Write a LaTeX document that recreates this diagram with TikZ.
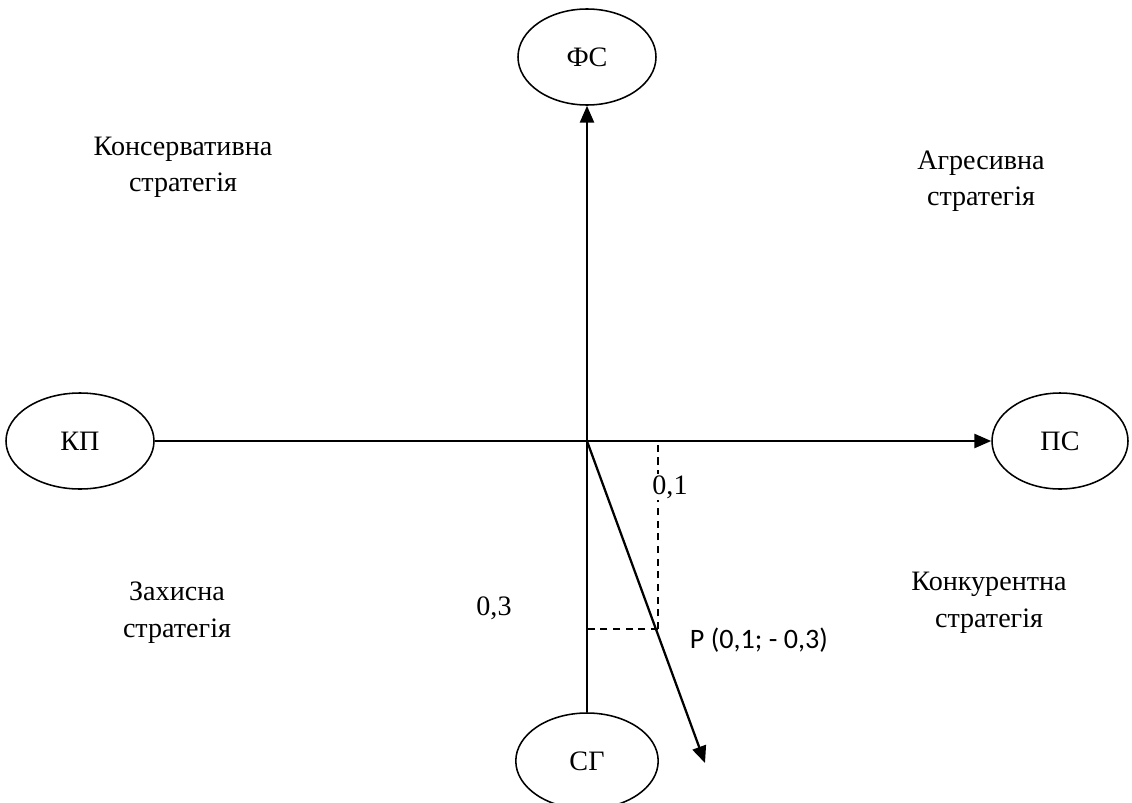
\documentclass[tikz,border=0pt]{standalone}
\usepackage{fontspec}
\setmainfont{Liberation Serif}
\newfontfamily\calibrifont{Carlito}
\usetikzlibrary{arrows.meta, shapes.geometric}

\begin{document}
\begin{tikzpicture}[
    osi/.style={line width=1.6pt, -{Triangle[length=12pt, width=10pt]}},
    kruh/.style={draw, ellipse, line width=1.1pt, minimum width=3.45cm,
                 minimum height=2.4cm, font=\fontsize{20}{26}\selectfont},
    napys/.style={align=center, font=\fontsize{20}{26}\selectfont},
    pomitka/.style={dashed, line width=1.1pt, dash pattern=on 5pt off 4pt}
  ]
    \useasboundingbox (-14.675, -9.025) rectangle (13.625, 11.025);

    % Вузли осей
    \node[kruh] (fs) at (0, 9.6) {ФС};
    \node[kruh, minimum width=3.7cm] (kp) at (-12.675, 0) {КП};
    \node[kruh, minimum width=3.4cm] (ps) at (11.825, 0) {ПС};
    \node[kruh, minimum width=3.56cm] (sg) at (0, -8.0) {СГ};

    % Осі
    \coordinate (O) at (0, 0);
    \draw[line width=1.6pt] (sg.north) -- (O);
    \draw[osi] (O) -- (fs.south);
    \draw[line width=1.6pt] (kp.east) -- (O);
    \draw[osi] (O) -- (ps.west);

    % Вектор P
    \coordinate (P) at (1.775, -4.7);
    \coordinate (Pkin) at (2.95, -8.05);
    \draw[osi] (O) -- (Pkin);
    \draw[pomitka] (P) -- (P |- O);
    \draw[pomitka] (P) -- (O |- P);
    \node[napys, fill=white, inner sep=1pt] (px) at (2.075, -1.15) {0,1};
    \node[napys] (py) at (-2.325, -4.175) {0,3};
    \node[anchor=west, font=\calibrifont\fontsize{20}{24}\selectfont] (pl)
         at (2.45, -4.975) {P (0,1; - 0,3)};

    % Стратегії
    \node[napys] (kons) at (-10.1, 6.84) {Консервативна\\стратегія};
    \node[napys] (agr) at (9.85, 6.49) {Агресивна\\стратегія};
    \node[napys] (zah) at (-10.25, -4.29) {Захисна\\стратегія};
    \node[napys] (konk) at (10.05, -4.04) {Конкурентна\\стратегія};
\end{tikzpicture}
\end{document}
